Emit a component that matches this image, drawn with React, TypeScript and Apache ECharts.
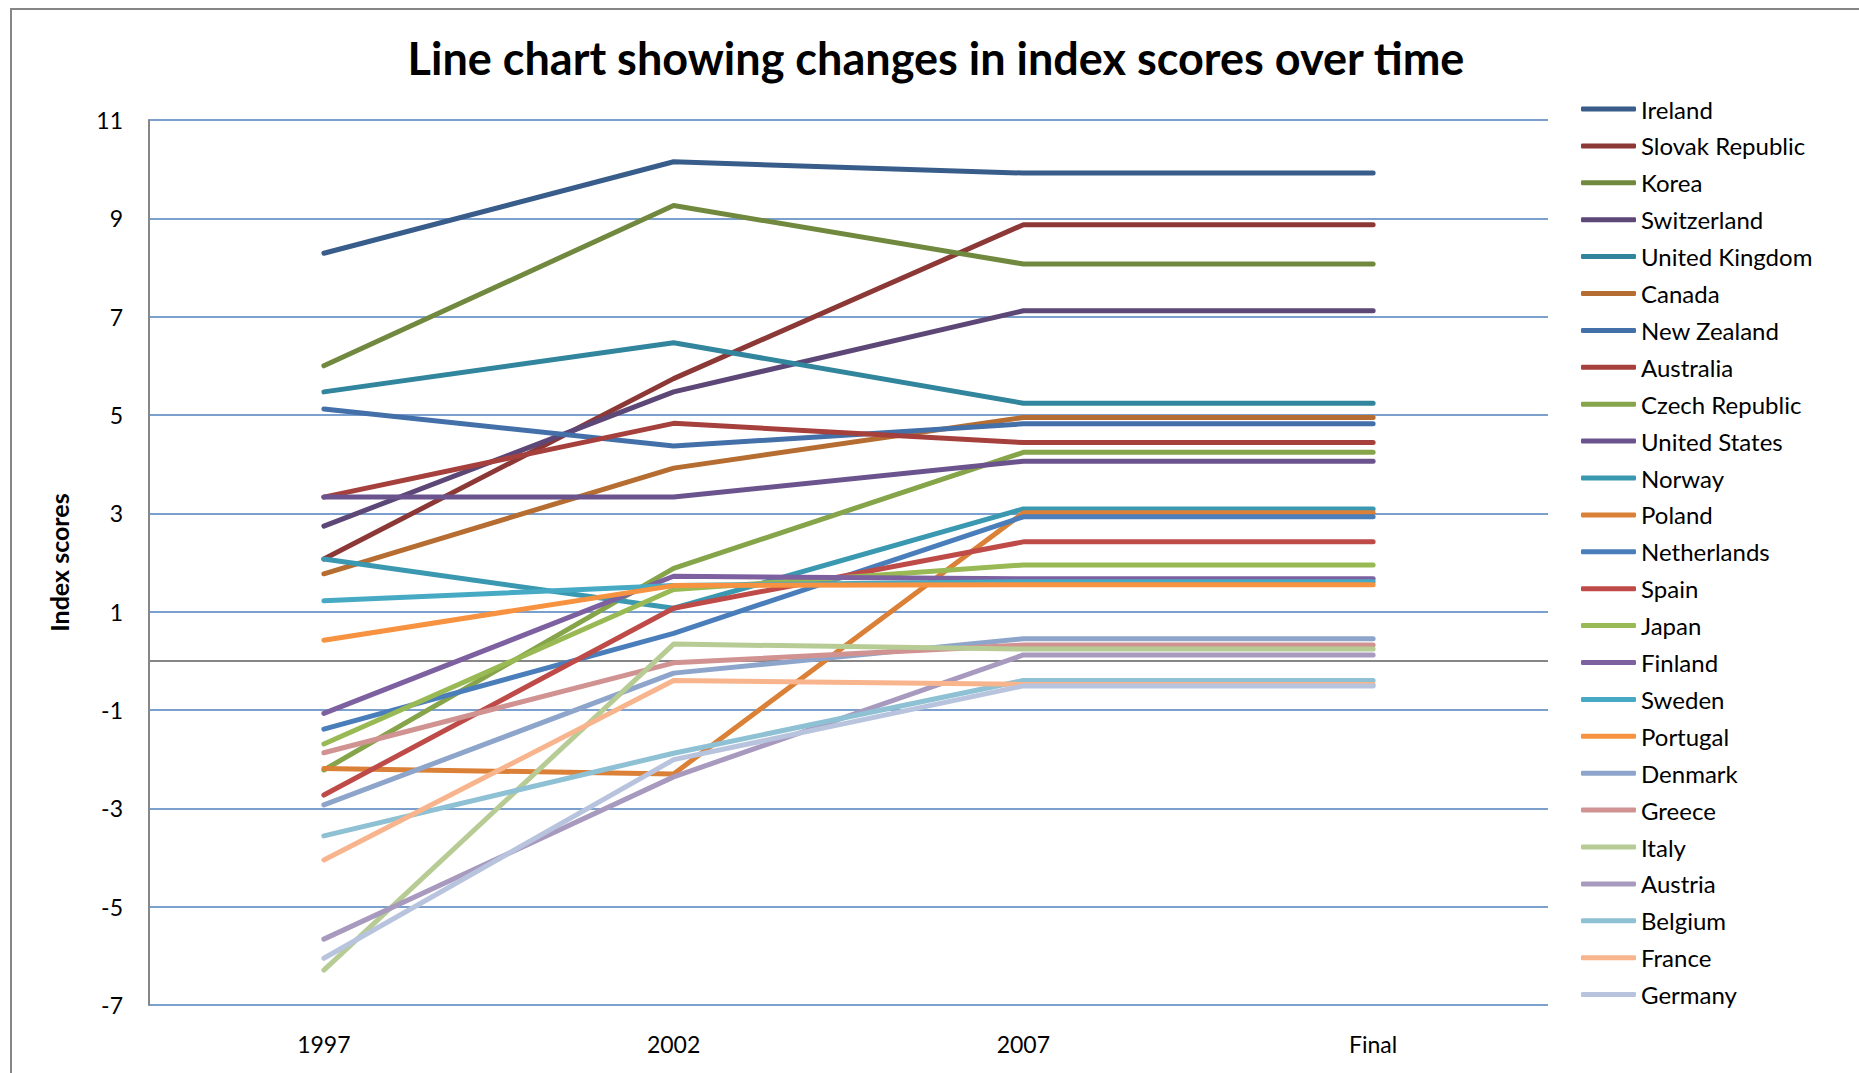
import React, { useEffect, useRef } from 'react';
import * as echarts from 'echarts';

const categories = ['1997', '2002', '2007', 'Final'];
const yTickLabels = ['-7', '-5', '-3', '-1', '1', '3', '5', '7', '9', '11'];

const countries = [
  'Ireland', 'Slovak Republic', 'Korea', 'Switzerland', 'United Kingdom', 'Canada',
  'New Zealand', 'Australia', 'Czech Republic', 'United States', 'Norway', 'Poland',
  'Netherlands', 'Spain', 'Japan', 'Finland', 'Sweden', 'Portugal',
  'Denmark', 'Greece', 'Italy', 'Austria', 'Belgium', 'France', 'Germany',
];

const ireland = [8.29, 10.15, 9.92, 9.92];
const slovakRepublic = [2.07, 5.74, 8.87, 8.87];
const korea = [6.0, 9.26, 8.07, 8.07];
const switzerland = [2.74, 5.47, 7.12, 7.12];
const unitedKingdom = [5.47, 6.47, 5.24, 5.24];
const canada = [1.77, 3.92, 4.95, 4.95];
const newZealand = [5.12, 4.37, 4.82, 4.82];
const australia = [3.33, 4.83, 4.44, 4.44];
const czechRepublic = [-2.22, 1.88, 4.24, 4.24];
const unitedStates = [3.33, 3.33, 4.06, 4.06];
const norway = [2.07, 1.07, 3.09, 3.09];
const poland = [-2.19, -2.3, 3.01, 3.01];
const netherlands = [-1.39, 0.56, 2.93, 2.93];
const spain = [-2.73, 1.07, 2.42, 2.42];
const japan = [-1.69, 1.45, 1.95, 1.95];
const finland = [-1.07, 1.72, 1.67, 1.67];
const sweden = [1.22, 1.53, 1.61, 1.61];
const portugal = [0.42, 1.53, 1.55, 1.55];
const denmark = [-2.93, -0.25, 0.45, 0.45];
const greece = [-1.87, -0.04, 0.32, 0.32];
const italy = [-6.29, 0.34, 0.24, 0.24];
const austria = [-5.66, -2.36, 0.12, 0.12];
const belgium = [-3.56, -1.88, -0.4, -0.4];
const france = [-4.05, -0.4, -0.48, -0.48];
const germany = [-6.05, -2.01, -0.51, -0.51];

const seriesValues = [
  ireland, slovakRepublic, korea, switzerland, unitedKingdom, canada,
  newZealand, australia, czechRepublic, unitedStates, norway, poland,
  netherlands, spain, japan, finland, sweden, portugal,
  denmark, greece, italy, austria, belgium, france, germany,
];

const seriesColors = [
  '#385D8A', '#8C3836', '#71893F', '#5C4776', '#31859C', '#B66D31',
  '#4470AA', '#A5403D', '#86A44A', '#6B548E', '#3A98B0', '#DA8137',
  '#4A7EBB', '#BE4B48', '#98B954', '#7D60A0', '#46AAC5', '#F69240',
  '#8EA5CB', '#D09392', '#B7CB94', '#A89ABE', '#8EC1D3', '#F8B48C', '#B8C4DE',
];

const FONT = 'Lato';

export default function App() {
  const ref = useRef<HTMLDivElement>(null);

  useEffect(() => {
    if (!ref.current) return;
    const chart = echarts.init(ref.current, undefined, { renderer: 'svg' });

    const series: any[] = countries.map((name, i) => ({
      name,
      type: 'line',
      data: seriesValues[i],
      symbol: 'none',
      showSymbol: false,
      color: seriesColors[i],
      lineStyle: { color: seriesColors[i], width: 5, cap: 'round', join: 'round' },
      emphasis: { disabled: true },
      z: 2,
      ...(i === 0
        ? {
            markLine: {
              silent: true,
              symbol: 'none',
              z: 1,
              animation: false,
              label: { show: false },
              emphasis: { disabled: true },
              lineStyle: { color: '#868686', width: 2, type: 'solid' },
              data: [{ yAxis: 0 }],
            },
          }
        : {}),
    }));

    chart.setOption({
      animation: false,
      backgroundColor: '#ffffff',
      textStyle: { fontFamily: FONT },
      title: {
        text: 'Line chart showing changes in index scores over time',
        left: 931,
        textAlign: 'center',
        top: 30,
        textStyle: { fontFamily: FONT, fontWeight: 'bold', fontSize: 45, color: '#000' },
      },
      graphic: [
        {
          type: 'rect',
          silent: true,
          z: -10,
          shape: { x: 11, y: 9, width: 2000, height: 1200 },
          style: { fill: 'none', stroke: '#868686', lineWidth: 2 },
        },
      ],
      legend: {
        data: countries,
        orient: 'vertical',
        left: 1576,
        top: 92,
        icon: 'roundRect',
        itemWidth: 55,
        itemHeight: 5,
        itemGap: 12.9,
        selectedMode: false,
        textStyle: { fontFamily: FONT, fontSize: 24, color: '#000', lineHeight: 24 },
      },
      grid: { left: 149, top: 120, right: 311, bottom: 68, containLabel: false },
      xAxis: {
        type: 'category',
        data: categories,
        boundaryGap: true,
        axisLine: { show: false },
        axisTick: { show: false },
        splitLine: { show: false },
        axisLabel: { fontFamily: FONT, fontSize: 23, color: '#000', margin: 27 },
      },
      yAxis: {
        type: 'value',
        min: -7,
        max: 11,
        interval: 1,
        name: 'Index scores',
        nameLocation: 'middle',
        nameGap: 78,
        nameTextStyle: { fontFamily: FONT, fontWeight: 'bold', fontSize: 25, color: '#000' },
        axisLine: { show: true, lineStyle: { color: '#868686', width: 2 } },
        axisTick: { show: false },
        axisLabel: {
          fontFamily: FONT,
          fontSize: 23,
          color: '#000',
          margin: 26,
          formatter: (v: number) => (yTickLabels.includes(String(v)) ? String(v) : ''),
        },
        splitLine: {
          show: true,
          lineStyle: { color: ['#4F81BD', 'rgba(0,0,0,0)'], width: 1.5 },
        },
      },
      series,
    });

    return () => chart.dispose();
  }, []);

  return (
    <div
      ref={ref}
      style={{ position: 'absolute', left: 0, top: 0, width: 1859, height: 1073 }}
    />
  );
}
